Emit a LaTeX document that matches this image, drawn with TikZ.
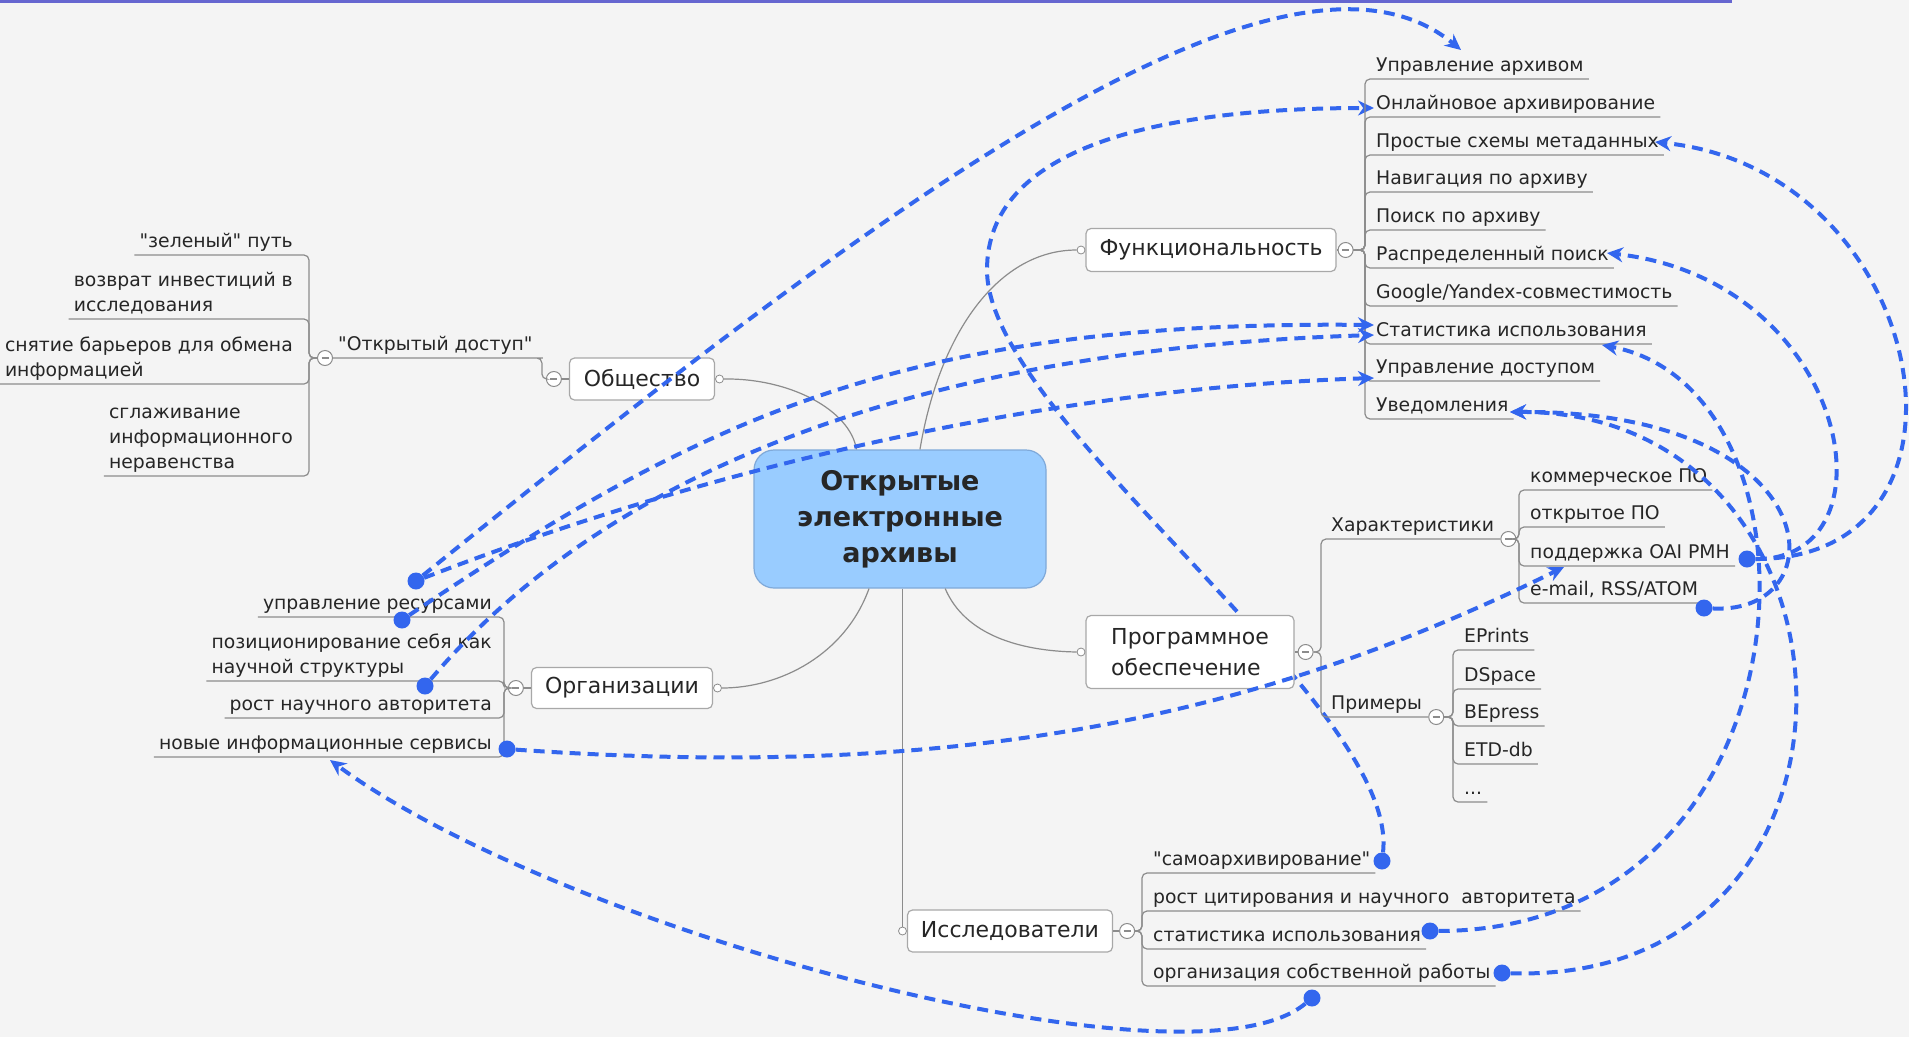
\documentclass[tikz,border=0pt]{standalone}
\usepackage{fontspec}
\setmainfont{DejaVu Sans}[Ligatures=TeXOff]
\usetikzlibrary{positioning}
\usetikzlibrary{calc}
\usetikzlibrary{arrows.meta}

\definecolor{bgcol}{HTML}{F4F4F4}
\definecolor{topline}{HTML}{6666D0}
\definecolor{relblue}{HTML}{3366EE}
\definecolor{linegray}{HTML}{8C8C8C}
\definecolor{boxgray}{HTML}{A8A8A8}
\definecolor{rootfill}{HTML}{99CCFF}
\definecolor{rootedge}{HTML}{7FA9D9}
\definecolor{textgray}{HTML}{262626}

\pgfdeclarelayer{bg}
\pgfsetlayers{bg,main}

\tikzset{
rootbox/.style={
  rectangle,
  rounded corners=20pt,
  draw=rootedge,
  line width=1.2pt,
  fill=rootfill,
  minimum width=292pt,
  minimum height=138pt,
  align=center,
  text=textgray,
  font=\bfseries\fontsize{27}{36}\selectfont
  },
topic/.style={
  rectangle,
  rounded corners=5pt,
  draw=boxgray,
  line width=1.2pt,
  fill=white,
  align=left,
  text=textgray,
  font=\fontsize{22}{31}\selectfont
  },
leaf/.style={
  inner xsep=5pt,
  inner ysep=0pt,
  align=left,
  text=textgray,
  font=\fontsize{18.8}{25}\selectfont,
  execute at end node=\strut
  },
knob/.style={circle, draw=linegray, fill=white, line width=0.8pt, minimum size=8pt, inner sep=0pt},
fold/.style={
  circle, draw=linegray, fill=white, line width=1pt, minimum size=15pt, inner sep=0pt,
  path picture={\draw[linegray, line width=1.2pt]
    ($(path picture bounding box.center)+(-3.5pt,0pt)$) -- ++(7pt,0pt);}
  },
branch/.style={draw=linegray, line width=1.2pt, rounded corners=5pt},
tie/.style={draw=linegray, line width=1.2pt},
dot/.style={circle, fill=relblue, minimum size=17pt, inner sep=0pt},
rel/.style={draw=relblue, line width=4pt, dash pattern=on 11pt off 7pt,
  -{Stealth[length=16pt,width=15pt]}}
}

\begin{document}
\begin{tikzpicture}[x=1pt,y=-1pt]
\useasboundingbox (0,0) rectangle (1909,1037);
\begin{pgfonlayer}{bg}
  \fill[bgcol] (0,0) rectangle (1909,1037);
\end{pgfonlayer}
\draw[topline, line width=3pt] (0,1.5) -- (1732,1.5);

% centre
\node[rootbox] (root) at (900,519) {Открытые\\электронные\\архивы};

% main topics
\node[topic, minimum width=145pt, minimum height=42pt] (soc) at (642,379) {Общество};
\node[topic, minimum width=250pt, minimum height=43pt] (func) at (1211,250) {Функциональность};
\node[topic, minimum width=208pt, minimum height=73pt] (soft) at (1190,652) {Программное\\обеспечение};
\node[topic, minimum width=181pt, minimum height=41pt] (org) at (622,688) {Организации};
\node[topic, minimum width=205pt, minimum height=42pt] (res) at (1010,931) {Исследователи};

\node[knob] (sknob) [right=0pt of soc] {};
\node[knob] (fknob) [left=0pt of func] {};
\node[knob] (pknob) [left=0pt of soft] {};
\node[knob] (oknob) [right=0pt of org] {};
\node[knob] (rknob) [left=0pt of res] {};

\node[fold] (sfold) [left=7pt of soc] {};
\node[fold] (ffold) [right=1pt of func] {};
\node[fold] (pfold) [right=3pt of soft] {};
\node[fold] (ofold) [left=7pt of org] {};
\node[fold] (rfold) [right=6pt of res] {};
\draw[tie] (sfold) -- (soc);
\draw[tie] (ffold) -- (func);
\draw[tie] (pfold) -- (soft);
\draw[tie] (ofold) -- (org);
\draw[tie] (rfold) -- (res);

% centre to topics
\draw[tie] (root.122) .. controls (850,410) and (790,378) .. (sknob.east);
\draw[tie] (root.74) .. controls (940,330) and (1000,250) .. (fknob.west);
\draw[tie] (root.303) .. controls (965,635) and (1020,651) .. (pknob.west);
\draw[tie] (root.246) .. controls (845,655) and (780,688) .. (oknob.east);
\draw[tie] (root.south -| rknob) -- (rknob.north);

% Общество
\node[leaf, anchor=south west] (dostup) at (333,358) {"Открытый доступ"};
\node[fold] (dfold) [left=0pt of dostup.south west] {};
\draw[branch] (sfold.west) -- ++(-4,0) |- (dostup.south east) -- (dfold.east);
\node[leaf, anchor=south east] (g1) at (298,255) {"зеленый" путь};
\node[leaf, anchor=south east] (g2) at (298,319) {возврат инвестиций в\\исследования};
\node[leaf, anchor=south east] (g3) at (298,384) {снятие барьеров для обмена\\информацией};
\node[leaf, anchor=south east] (g4) at (298,476) {сглаживание\\информационного\\неравенства};
\coordinate (dt) at (309,358);
\draw[branch] (dfold.west) -- (dt) |- (g1.south west);
\draw[branch] (dfold.west) -- (dt) |- (g2.south west);
\draw[branch] (dfold.west) -- (dt) |- (g3.south west);
\draw[branch] (dfold.west) -- (dt) |- (g4.south west);

% Организации
\node[leaf, anchor=south east] (o1) at (497,617) {управление ресурсами};
\node[leaf, anchor=south east] (o2) at (497,681) {позиционирование себя как\\научной структуры};
\node[leaf, anchor=south east] (o3) at (497,718) {рост научного авторитета};
\node[leaf, anchor=south east] (o4) at (497,757) {новые информационные сервисы};
\coordinate (ot) at (504,688);
\draw[branch] (ofold.west) -- (ot) |- (o1.south west);
\draw[branch] (ofold.west) -- (ot) |- (o2.south west);
\draw[branch] (ofold.west) -- (ot) |- (o3.south west);
\draw[branch] (ofold.west) -- (ot) |- (o4.south west);

% Функциональность
\node[leaf, anchor=south west] (f1) at (1371,79) {Управление архивом};
\node[leaf, anchor=south west] (f2) at (1371,117) {Онлайновое архивирование};
\node[leaf, anchor=south west] (f3) at (1371,155) {Простые схемы метаданных};
\node[leaf, anchor=south west] (f4) at (1371,192) {Навигация по архиву};
\node[leaf, anchor=south west] (f5) at (1371,230) {Поиск по архиву};
\node[leaf, anchor=south west] (f6) at (1371,268) {Распределенный поиск};
\node[leaf, anchor=south west] (f7) at (1371,306) {Google/Yandex-совместимость};
\node[leaf, anchor=south west] (f8) at (1371,344) {Статистика использования};
\node[leaf, anchor=south west] (f9) at (1371,381) {Управление доступом};
\node[leaf, anchor=south west] (f10) at (1371,419) {Уведомления};
\coordinate (ft) at (1365,250);
\draw[branch] (ffold.east) -- (ft) |- (f1.south east);
\draw[branch] (ffold.east) -- (ft) |- (f2.south east);
\draw[branch] (ffold.east) -- (ft) |- (f3.south east);
\draw[branch] (ffold.east) -- (ft) |- (f4.south east);
\draw[branch] (ffold.east) -- (ft) |- (f5.south east);
\draw[branch] (ffold.east) -- (ft) |- (f6.south east);
\draw[branch] (ffold.east) -- (ft) |- (f7.south east);
\draw[branch] (ffold.east) -- (ft) |- (f8.south east);
\draw[branch] (ffold.east) -- (ft) |- (f9.south east);
\draw[branch] (ffold.east) -- (ft) |- (f10.south east);

% Программное обеспечение
\node[leaf, anchor=south west] (chars) at (1326,539) {Характеристики};
\node[leaf, anchor=south west] (examples) at (1326,717) {Примеры};
\node[fold] (cfold) [right=1pt of chars.south east] {};
\node[fold] (efold) [right=1pt of examples.south east] {};
\coordinate (pt) at (1321,652);
\draw[branch] (pfold.east) -- (pt) |- (cfold.west);
\draw[branch] (pfold.east) -- (pt) |- (efold.west);

\node[leaf, anchor=south west] (c1) at (1525,490) {коммерческое ПО};
\node[leaf, anchor=south west] (c2) at (1525,527) {открытое ПО};
\node[leaf, anchor=south west] (c3) at (1525,566) {поддержка OAI PMH};
\node[leaf, anchor=south west] (c4) at (1525,603) {e-mail, RSS/ATOM};
\coordinate (cht) at (1519,539);
\draw[branch] (cfold.east) -- (cht) |- (c1.south east);
\draw[branch] (cfold.east) -- (cht) |- (c2.south east);
\draw[branch] (cfold.east) -- (cht) |- (c3.south east);
\draw[branch] (cfold.east) -- (cht) |- (c4.south east);

\node[leaf, anchor=south west] (e1) at (1459,650) {EPrints};
\node[leaf, anchor=south west] (e2) at (1459,689) {DSpace};
\node[leaf, anchor=south west] (e3) at (1459,726) {BEpress};
\node[leaf, anchor=south west] (e4) at (1459,764) {ETD-db};
\node[leaf, anchor=south west] (e5) at (1459,802) {...};
\coordinate (ext) at (1453,717);
\draw[branch] (efold.east) -- (ext) |- (e1.south east);
\draw[branch] (efold.east) -- (ext) |- (e2.south east);
\draw[branch] (efold.east) -- (ext) |- (e3.south east);
\draw[branch] (efold.east) -- (ext) |- (e4.south east);
\draw[branch] (efold.east) -- (ext) |- (e5.south east);

% Исследователи
\node[leaf, anchor=south west] (r1) at (1148,873) {"самоархивирование"};
\node[leaf, anchor=south west] (r2) at (1148,911) {рост цитирования и научного\ \ авторитета};
\node[leaf, anchor=south west] (r3) at (1148,949) {статистика использования};
\node[leaf, anchor=south west] (r4) at (1148,986) {организация собственной работы};
\coordinate (rt) at (1142,931);
\draw[branch] (rfold.east) -- (rt) |- (r1.south east);
\draw[branch] (rfold.east) -- (rt) |- (r2.south east);
\draw[branch] (rfold.east) -- (rt) |- (r3.south east);
\draw[branch] (rfold.east) -- (rt) |- (r4.south east);

% relations
\node[dot] (d1) at (416,581) {};
\node[dot] (d2) at (402,620) {};
\node[dot] (d3) at (425,686) {};
\node[dot] (d4) at (507,749) {};
\node[dot] (d5) at (1747,559) {};
\node[dot] (d6) at (1704,608) {};
\node[dot] (d7) at (1382,861) {};
\node[dot] (d8) at (1430,931) {};
\node[dot] (d9) at (1502,973) {};
\node[dot] (d10) at (1312,998) {};
\coordinate (a1) at (1461,50);
\coordinate (a2) at (1374,108);
\coordinate (a3) at (1655,142);
\coordinate (a4) at (1607,253);
\coordinate (a5) at (1374,325);
\coordinate (a6) at (1374,335);
\coordinate (a7) at (1602,345);
\coordinate (a8) at (1374,378);
\coordinate (a9) at (1510,412);
\coordinate (a10) at (1564,567);
\coordinate (a11) at (330,760);

\begin{pgfonlayer}{bg}
  \draw[rel] (d7) .. controls (1400,705) and (987,420) .. (987,270)
    .. controls (987,150) and (1150,108) .. (a2);
\end{pgfonlayer}
\draw[rel] (d1) .. controls (850,230) and (1280,-100) .. (a1);
\draw[rel] (d1) .. controls (650,490) and (1000,390) .. (a8);
\draw[rel] (d2) .. controls (700,420) and (900,320) .. (a5);
\draw[rel] (d3) .. controls (600,480) and (900,350) .. (a6);
\draw[rel] (d4) .. controls (950,780) and (1250,722) .. (a10);
\draw[rel] (d10) .. controls (1190,1100) and (560,930) .. (a11);
\draw[rel] (d5) .. controls (2000,559) and (1930,170) .. (a3);
\draw[rel] (d5) .. controls (1900,560) and (1850,280) .. (a4);
\draw[rel] (d6) .. controls (1840,615) and (1830,410) .. (a9);
\draw[rel] (d9) .. controls (1900,985) and (1880,410) .. (a9);
\draw[rel] (d8) .. controls (1820,930) and (1840,390) .. (a7);
\end{tikzpicture}
\end{document}
